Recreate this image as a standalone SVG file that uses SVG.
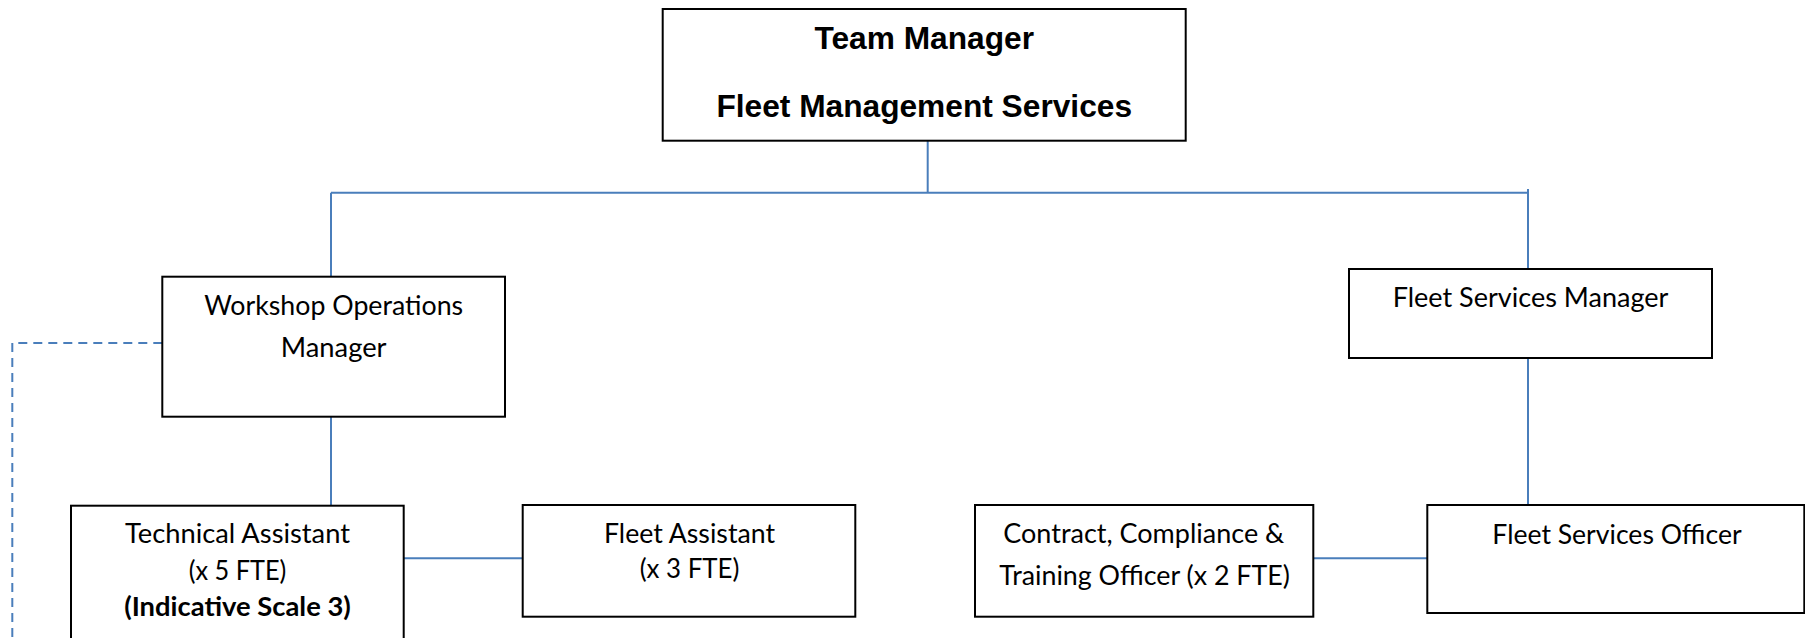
<svg xmlns="http://www.w3.org/2000/svg" width="1805" height="638" viewBox="0 0 1805 638">
  <style>
    .box { fill: #ffffff; stroke: #000000; stroke-width: 2; }
    .conn { fill: none; stroke: #4A7EBB; stroke-width: 2; }
    .dash { fill: none; stroke: #4A7EBB; stroke-width: 2; stroke-dasharray: 9 6; }
    .title { font-family: "Liberation Sans", Arial, sans-serif; font-weight: bold; font-size: 31.7px; fill: #000; text-anchor: middle; }
    .lbl { font-family: Lato, "Open Sans", sans-serif; font-size: 26px; fill: #000; text-anchor: middle; }
    .bold { font-weight: bold; }
  </style>
  <rect width="1805" height="638" fill="#ffffff"/>

  <g id="connectors">
    <line class="conn" x1="927.7" y1="140.7" x2="927.7" y2="192.7"/>
    <line class="conn" x1="331" y1="192.7" x2="1528" y2="192.7"/>
    <line class="conn" x1="331" y1="192.7" x2="331" y2="276.7"/>
    <line class="conn" x1="1528" y1="189" x2="1528" y2="269"/>
    <line class="conn" x1="331" y1="416.7" x2="331" y2="505.7"/>
    <line class="conn" x1="1528" y1="358" x2="1528" y2="505"/>
    <line class="conn" x1="403.7" y1="558.3" x2="522.7" y2="558.3"/>
    <line class="conn" x1="1313.3" y1="558.3" x2="1427.3" y2="558.3"/>
    <polyline class="dash" points="162.3,343 12.3,343 12.3,645"/>
  </g>

  <g id="team-manager">
    <rect class="box" x="662.7" y="9" width="523" height="131.7"/>
    <text class="title" x="924.2" y="49.3">Team Manager</text>
    <text class="title" x="924.2" y="117.3">Fleet Management Services</text>
  </g>

  <g id="workshop-operations-manager">
    <rect class="box" x="162.3" y="276.7" width="342.7" height="140"/>
    <text class="lbl" x="333.7" y="315" textLength="259" lengthAdjust="spacingAndGlyphs">Workshop Operations</text>
    <text class="lbl" x="333.7" y="356.7" textLength="105.7" lengthAdjust="spacingAndGlyphs">Manager</text>
  </g>

  <g id="fleet-services-manager">
    <rect class="box" x="1349" y="269" width="363" height="89"/>
    <text class="lbl" x="1530.5" y="306.7" textLength="275.7" lengthAdjust="spacingAndGlyphs">Fleet Services Manager</text>
  </g>

  <g id="technical-assistant">
    <rect class="box" x="71" y="505.7" width="332.7" height="140"/>
    <text class="lbl" x="237.5" y="543.3" textLength="225" lengthAdjust="spacingAndGlyphs">Technical Assistant</text>
    <text class="lbl" x="237.5" y="580" textLength="97.7" lengthAdjust="spacingAndGlyphs">(x 5 FTE)</text>
    <text class="lbl bold" x="237.5" y="615.7" textLength="226.7" lengthAdjust="spacingAndGlyphs">(Indicative Scale 3)</text>
  </g>

  <g id="fleet-assistant">
    <rect class="box" x="522.7" y="505" width="332.6" height="111.7"/>
    <text class="lbl" x="689.5" y="542.7" textLength="171" lengthAdjust="spacingAndGlyphs">Fleet Assistant</text>
    <text class="lbl" x="689.5" y="577.5" textLength="99.7" lengthAdjust="spacingAndGlyphs">(x 3 FTE)</text>
  </g>

  <g id="contract-compliance-training-officer">
    <rect class="box" x="975" y="505" width="338.3" height="111.7"/>
    <text class="lbl" x="1143.8" y="542.7" textLength="281" lengthAdjust="spacingAndGlyphs">Contract, Compliance &amp;</text>
    <text class="lbl" x="1144.6" y="585" textLength="290.7" lengthAdjust="spacingAndGlyphs">Training Officer (x 2 FTE)</text>
  </g>

  <g id="fleet-services-officer">
    <rect class="box" x="1427.3" y="505" width="377" height="108"/>
    <text class="lbl" x="1617" y="544" textLength="249.3" lengthAdjust="spacingAndGlyphs">Fleet Services Officer</text>
  </g>
</svg>
